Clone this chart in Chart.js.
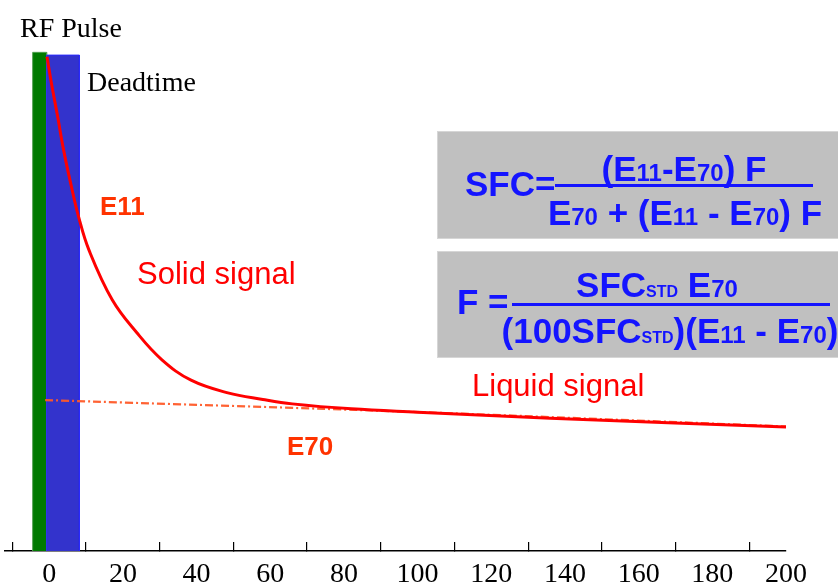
<!DOCTYPE html>
<html>
<head>
<meta charset="utf-8">
<script src="https://cdn.jsdelivr.net/npm/chart.js@4.4.0/dist/chart.umd.min.js"></script>
<style>
  body { margin: 0; background: #fff; }
  canvas { display: block; }
</style>
</head>
<body>
<canvas id="chart" width="838" height="586"></canvas>
<script>
// RF pulse and deadtime windows (x from, x to) and their heights
const rfPulseX = [-4.5, -0.7];
const rfPulseTop = 90.5;
const deadtimeX = [-0.7, 8.2];
const deadtimeTop = 90.0;

// total signal decay (solid + liquid)
const decayX = [-0.6, 0.6, 2.3, 3.9, 5.8, 8.0, 10.8, 17.1, 23.8, 30.6, 38.5, 48.5, 58.0, 66, 82, 100, 136, 200];
const decayY = [89.7, 84.9, 78.8, 72.8, 66.8, 60.6, 54.6, 45.6, 39.6, 34.7, 31.0, 28.7, 27.5, 26.7, 25.8, 25.2, 24.1, 22.5];

// liquid signal extrapolated back to t = 0
const liquidX = [-1.1, 100.6, 200];
const liquidY = [27.4, 25.2, 22.6];

const xMin = -12;
const xMax = 200;

function pts(xs, ys) {
  return xs.map((x, i) => ({ x: x, y: ys[i] }));
}
function box(xs, top) {
  return [{ x: xs[0], y: 0 }, { x: xs[0], y: top }, { x: xs[1], y: top }, { x: xs[1], y: 0 }];
}

const SANS = "'Liberation Sans', Arial, sans-serif";
const SERIF = "'Liberation Serif', 'Times New Roman', serif";

// draws a row of text pieces of different sizes, centred on cx
function drawRuns(ctx, parts, cx, base) {
  let w = 0;
  parts.forEach(p => {
    ctx.font = 'bold ' + p[1] + 'px ' + SANS;
    w += ctx.measureText(p[0]).width;
  });
  let x = cx - w / 2;
  parts.forEach(p => {
    ctx.font = 'bold ' + p[1] + 'px ' + SANS;
    ctx.fillText(p[0], x, base);
    x += ctx.measureText(p[0]).width;
  });
}

const labelsPlugin = {
  id: 'labels',
  afterDraw(chart) {
    const ctx = chart.ctx;
    ctx.save();
    ctx.textAlign = 'left';
    ctx.textBaseline = 'alphabetic';

    ctx.fillStyle = '#000';
    ctx.font = '28px ' + SERIF;
    ctx.fillText('RF Pulse', 20, 37);
    ctx.fillText('Deadtime', 87, 91);

    ctx.fillStyle = '#ff3300';
    ctx.font = 'bold 26px ' + SANS;
    ctx.fillText('E11', 100, 215);
    ctx.fillText('E70', 287, 455);

    ctx.fillStyle = '#ff0000';
    ctx.font = '31px ' + SANS;
    ctx.fillText('Solid signal', 137, 284);
    ctx.fillText('Liquid signal', 472, 396);

    // formula boxes
    ctx.fillStyle = '#c0c0c0';
    ctx.strokeStyle = '#d6d6d6';
    ctx.lineWidth = 1;
    ctx.fillRect(437, 131, 410, 108);
    ctx.strokeRect(437.5, 131.5, 410, 107);
    ctx.fillRect(437, 251, 410, 107);
    ctx.strokeRect(437.5, 251.5, 410, 106);

    const blue = '#1414ff';
    ctx.fillStyle = blue;
    ctx.strokeStyle = blue;
    ctx.lineWidth = 3;

    ctx.font = 'bold 35px ' + SANS;
    ctx.fillText('SFC=', 465, 196);
    ctx.beginPath();
    ctx.moveTo(555, 185.5);
    ctx.lineTo(813, 185.5);
    ctx.stroke();
    drawRuns(ctx, [['(', 35], ['E', 35], ['11', 24], ['-', 35], ['E', 35], ['70', 24], [') F', 35]], 684, 181);
    drawRuns(ctx, [['E', 35], ['70', 24], [' + (', 35], ['E', 35], ['11', 24], [' - ', 35], ['E', 35], ['70', 24], [') F', 35]], 685, 225);

    ctx.font = 'bold 35px ' + SANS;
    ctx.fillText('F =', 457, 314);
    ctx.beginPath();
    ctx.moveTo(512, 304.5);
    ctx.lineTo(830, 304.5);
    ctx.stroke();
    drawRuns(ctx, [['SFC', 35], ['STD', 16], [' E', 35], ['70', 24]], 657, 297);
    drawRuns(ctx, [['(100SFC', 35], ['STD', 16], [')(E', 35], ['11', 24], [' - E', 35], ['70', 24], [')', 35]], 670, 343);

    ctx.restore();
  }
};

new Chart(document.getElementById('chart'), {
  type: 'line',
  data: {
    datasets: [
      {
        label: 'Signal',
        data: pts(decayX, decayY),
        borderColor: '#ff0000',
        borderWidth: 3,
        pointRadius: 0,
        tension: 0.4,
        fill: false
      },
      {
        label: 'Liquid signal',
        data: pts(liquidX, liquidY),
        borderColor: 'rgba(255,90,40,0.95)',
        borderWidth: 2.2,
        borderDash: [8, 3, 2, 3],
        pointRadius: 0,
        tension: 0.3,
        fill: false
      },
      {
        label: 'Deadtime',
        data: box(deadtimeX, deadtimeTop),
        borderColor: '#2a2aff',
        borderWidth: 1,
        backgroundColor: '#3333cc',
        pointRadius: 0,
        tension: 0,
        fill: 'origin'
      },
      {
        label: 'RF Pulse',
        data: box(rfPulseX, rfPulseTop),
        borderColor: '#4f9f4f',
        borderWidth: 1,
        backgroundColor: '#007a00',
        pointRadius: 0,
        tension: 0,
        fill: 'origin'
      }
    ]
  },
  options: {
    responsive: false,
    animation: false,
    layout: { padding: { left: 5, right: 52, top: 0, bottom: 0 } },
    plugins: {
      legend: { display: false },
      tooltip: { enabled: false }
    },
    scales: {
      x: {
        type: 'linear',
        min: xMin,
        max: xMax,
        border: { display: true, color: '#000', width: 1.5 },
        grid: {
          drawOnChartArea: false,
          drawTicks: true,
          tickLength: -9,
          lineWidth: 1.2,
          tickColor: c => (c.tick && c.tick.value % 20 !== 0) ? '#000' : 'rgba(0,0,0,0)'
        },
        ticks: {
          stepSize: 10,
          includeBounds: false,
          autoSkip: false,
          maxRotation: 0,
          padding: 2,
          color: '#000',
          font: { family: SERIF, size: 28, lineHeight: 2.2 },
          callback: v => (v % 20 === 0 ? String(v) : '')
        },
        afterFit: s => { s.height = 35; }
      },
      y: {
        display: false,
        min: 0,
        max: 100
      }
    }
  },
  plugins: [labelsPlugin]
});
</script>
</body>
</html>
